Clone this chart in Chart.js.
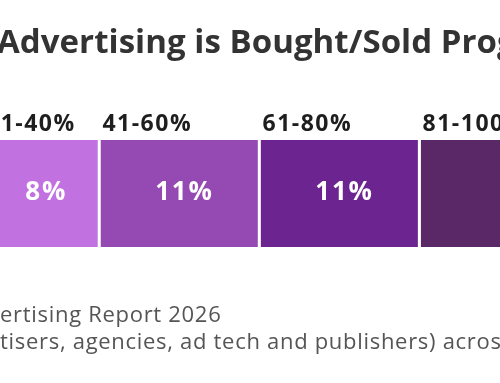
<!DOCTYPE html>
<html>
<head>
<meta charset="utf-8">
<script src="https://cdn.jsdelivr.net/npm/chart.js@4"></script>
<style>
  html, body { margin: 0; padding: 0; background: #fff; }
  #wrap { position: relative; width: 500px; height: 383px; overflow: hidden; background: #fff; }
  #chart { position: absolute; left: 0; top: 0; }
  .txt { position: absolute; white-space: nowrap; font-family: "Open Sans", sans-serif; line-height: 1.362; }
  #title { top: 19px; left: -3px; font-size: 33px; font-weight: 700; color: #333; letter-spacing: 0.05px; }
  .foot { font-size: 22px; font-weight: 400; color: #555; letter-spacing: 0.7px; }
  #f1 { top: 299px; }
  #f2 { top: 326px; }
</style>
</head>
<body>
<div id="wrap">
  <canvas id="chart" width="500" height="383"></canvas>
  <div id="title" class="txt">Advertising is Bought/Sold Programmatically</div>
  <div id="f1" class="txt foot"><span class="pre">Adv</span>ertising Report 2026</div>
  <div id="f2" class="txt foot"><span class="pre">(adver</span>tisers, agencies, ad tech and publishers) across</div>
</div>
<script>
// ---- data ----
const categories = ["21-40%", "41-60%", "61-80%", "81-100%"];
const shares = [8, 11, 11, 20];
const segmentColors = ["#c272e0", "#954ab3", "#6c2490", "#5a2866"];

// hide footer prefixes that fall outside the visible crop
document.querySelectorAll('.foot').forEach(el => {
  const pre = el.querySelector('.pre');
  el.style.left = (-pre.getBoundingClientRect().width) + 'px';
});

const labelPlugin = {
  id: 'segLabels',
  afterDatasetsDraw(chart) {
    const ctx = chart.ctx;
    chart.data.datasets.forEach((ds, i) => {
      const bar = chart.getDatasetMeta(i).data[0];
      if (!bar) return;
      const left = Math.min(bar.base, bar.x);
      const right = Math.max(bar.base, bar.x);
      ctx.save();
      ctx.fillStyle = '#1e1e1e';
      ctx.font = '700 23px "Open Sans"';
      ctx.letterSpacing = '1.5px';
      ctx.textAlign = 'left';
      ctx.textBaseline = 'alphabetic';
      ctx.fillText(ds.label, left + 2, bar.y - 63);
      ctx.fillStyle = '#ffffff';
      ctx.font = '700 26px "Open Sans"';
      ctx.letterSpacing = '1.8px';
      ctx.textAlign = 'center';
      ctx.fillText(ds.data[0] + '%', (left + right) / 2 + 4, bar.y + 6);
      ctx.restore();
    });
  }
};

new Chart(document.getElementById('chart'), {
  type: 'bar',
  data: {
    labels: ['share'],
    datasets: categories.map((c, i) => ({
      label: c,
      data: [shares[i]],
      backgroundColor: segmentColors[i],
      borderColor: '#ffffff',
      borderWidth: { top: 0, bottom: 0, left: 0, right: 3 },
      borderSkipped: false,
      barPercentage: 1,
      categoryPercentage: 1
    }))
  },
  options: {
    indexAxis: 'y',
    responsive: false,
    animation: false,
    layout: { padding: { top: 140, bottom: 136, left: 0, right: 0 } },
    plugins: { legend: { display: false }, tooltip: { enabled: false }, title: { display: false } },
    scales: {
      x: { stacked: true, min: 1.1, max: 35.46, display: false },
      y: { stacked: true, display: false }
    }
  },
  plugins: [labelPlugin]
});
</script>
</body>
</html>
